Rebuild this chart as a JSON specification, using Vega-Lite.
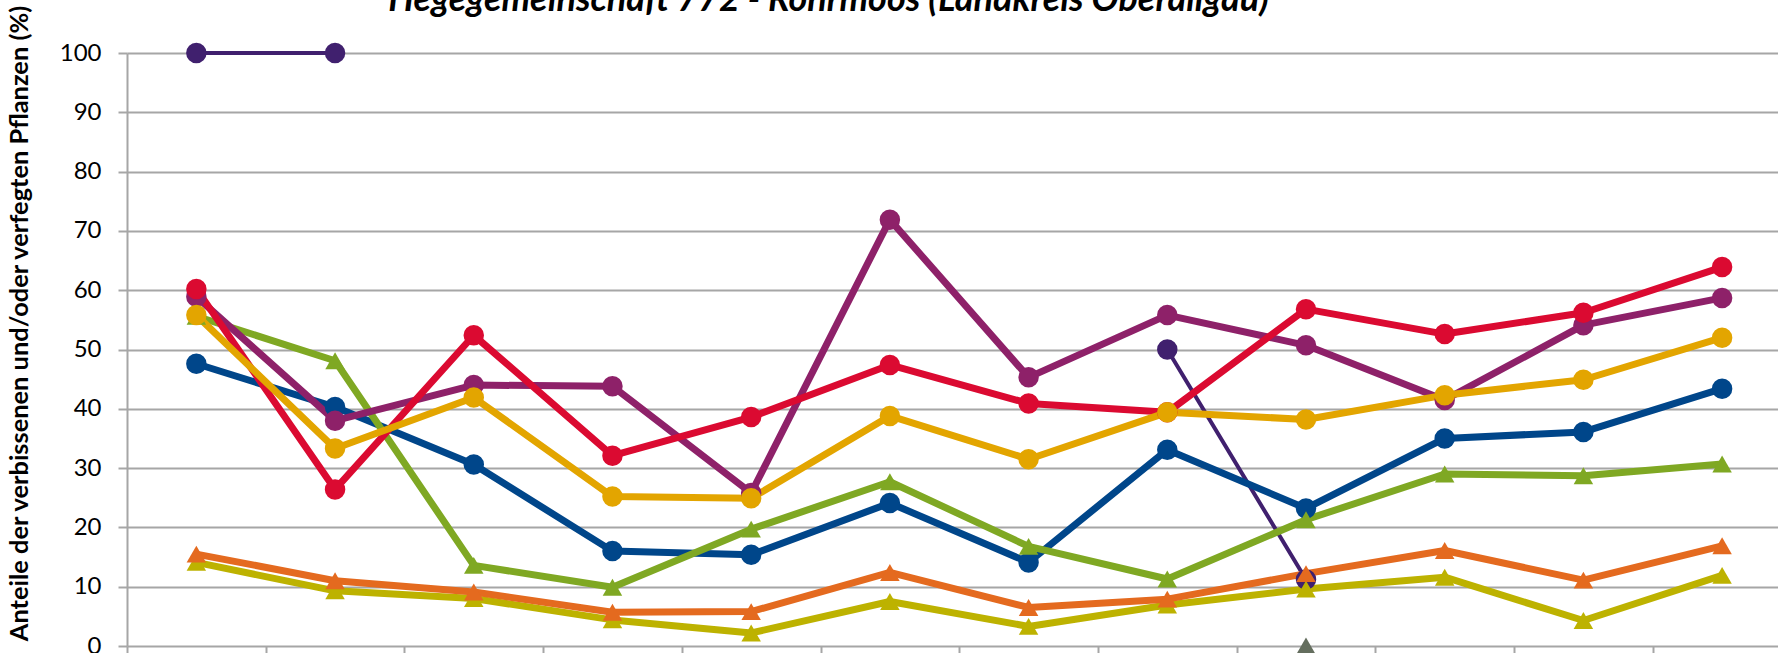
{
  "$schema": "https://vega.github.io/schema/vega-lite/v6.json",
  "width": 1651,
  "height": 593,
  "autosize": {"type": "none"},
  "padding": {"left": 127, "top": 53, "right": 0, "bottom": 7},
  "background": "white",
  "config": {"view": {"stroke": null}},
  "title": {
    "text": "Hegegemeinschaft 772 - Rohrmoos (Landkreis Oberallgäu)",
    "font": "Lato", "fontSize": 36, "fontStyle": "italic", "fontWeight": "bold",
    "color": "#000000", "anchor": "middle", "dx": -124, "offset": 0, "dy": 15
  },
  "data": {"values": [
    {"s": "Reihe 1", "x": 1, "y": 100}, {"s": "Reihe 1", "x": 2, "y": 100}, {"s": "Reihe 1", "x": 3, "y": null}, {"s": "Reihe 1", "x": 8, "y": 50}, {"s": "Reihe 1", "x": 9, "y": 11.2},
    {"s": "Reihe 2", "x": 1, "y": 47.6}, {"s": "Reihe 2", "x": 2, "y": 40.3}, {"s": "Reihe 2", "x": 3, "y": 30.6}, {"s": "Reihe 2", "x": 4, "y": 16.0}, {"s": "Reihe 2", "x": 5, "y": 15.4}, {"s": "Reihe 2", "x": 6, "y": 24.1}, {"s": "Reihe 2", "x": 7, "y": 14.1}, {"s": "Reihe 2", "x": 8, "y": 33.1}, {"s": "Reihe 2", "x": 9, "y": 23.2}, {"s": "Reihe 2", "x": 10, "y": 35.0}, {"s": "Reihe 2", "x": 11, "y": 36.1}, {"s": "Reihe 2", "x": 12, "y": 43.4},
    {"s": "Reihe 3", "x": 1, "y": 55.6}, {"s": "Reihe 3", "x": 2, "y": 48.1}, {"s": "Reihe 3", "x": 3, "y": 13.6}, {"s": "Reihe 3", "x": 4, "y": 9.9}, {"s": "Reihe 3", "x": 5, "y": 19.7}, {"s": "Reihe 3", "x": 6, "y": 27.7}, {"s": "Reihe 3", "x": 7, "y": 16.8}, {"s": "Reihe 3", "x": 8, "y": 11.3}, {"s": "Reihe 3", "x": 9, "y": 21.3}, {"s": "Reihe 3", "x": 10, "y": 29.0}, {"s": "Reihe 3", "x": 11, "y": 28.7}, {"s": "Reihe 3", "x": 12, "y": 30.7},
    {"s": "Reihe 4", "x": 1, "y": 58.9}, {"s": "Reihe 4", "x": 2, "y": 38.0}, {"s": "Reihe 4", "x": 3, "y": 44.0}, {"s": "Reihe 4", "x": 4, "y": 43.8}, {"s": "Reihe 4", "x": 5, "y": 25.8}, {"s": "Reihe 4", "x": 6, "y": 71.9}, {"s": "Reihe 4", "x": 7, "y": 45.3}, {"s": "Reihe 4", "x": 8, "y": 55.8}, {"s": "Reihe 4", "x": 9, "y": 50.7}, {"s": "Reihe 4", "x": 10, "y": 41.5}, {"s": "Reihe 4", "x": 11, "y": 54.1}, {"s": "Reihe 4", "x": 12, "y": 58.7},
    {"s": "Reihe 5", "x": 1, "y": 60.2}, {"s": "Reihe 5", "x": 2, "y": 26.4}, {"s": "Reihe 5", "x": 3, "y": 52.4}, {"s": "Reihe 5", "x": 4, "y": 32.1}, {"s": "Reihe 5", "x": 5, "y": 38.6}, {"s": "Reihe 5", "x": 6, "y": 47.4}, {"s": "Reihe 5", "x": 7, "y": 40.9}, {"s": "Reihe 5", "x": 8, "y": 39.4}, {"s": "Reihe 5", "x": 9, "y": 56.8}, {"s": "Reihe 5", "x": 10, "y": 52.6}, {"s": "Reihe 5", "x": 11, "y": 56.2}, {"s": "Reihe 5", "x": 12, "y": 63.9},
    {"s": "Reihe 6", "x": 1, "y": 55.8}, {"s": "Reihe 6", "x": 2, "y": 33.3}, {"s": "Reihe 6", "x": 3, "y": 41.9}, {"s": "Reihe 6", "x": 4, "y": 25.2}, {"s": "Reihe 6", "x": 5, "y": 24.9}, {"s": "Reihe 6", "x": 6, "y": 38.8}, {"s": "Reihe 6", "x": 7, "y": 31.5}, {"s": "Reihe 6", "x": 8, "y": 39.4}, {"s": "Reihe 6", "x": 9, "y": 38.2}, {"s": "Reihe 6", "x": 10, "y": 42.3}, {"s": "Reihe 6", "x": 11, "y": 44.9}, {"s": "Reihe 6", "x": 12, "y": 52.0},
    {"s": "Reihe 7", "x": 1, "y": 14.1}, {"s": "Reihe 7", "x": 2, "y": 9.3}, {"s": "Reihe 7", "x": 3, "y": 8.0}, {"s": "Reihe 7", "x": 4, "y": 4.4}, {"s": "Reihe 7", "x": 5, "y": 2.2}, {"s": "Reihe 7", "x": 6, "y": 7.5}, {"s": "Reihe 7", "x": 7, "y": 3.3}, {"s": "Reihe 7", "x": 8, "y": 6.9}, {"s": "Reihe 7", "x": 9, "y": 9.6}, {"s": "Reihe 7", "x": 10, "y": 11.6}, {"s": "Reihe 7", "x": 11, "y": 4.3}, {"s": "Reihe 7", "x": 12, "y": 11.9},
    {"s": "Reihe 8", "x": 1, "y": 15.5}, {"s": "Reihe 8", "x": 2, "y": 11.0}, {"s": "Reihe 8", "x": 3, "y": 9.1}, {"s": "Reihe 8", "x": 4, "y": 5.7}, {"s": "Reihe 8", "x": 5, "y": 5.8}, {"s": "Reihe 8", "x": 6, "y": 12.4}, {"s": "Reihe 8", "x": 7, "y": 6.5}, {"s": "Reihe 8", "x": 8, "y": 7.9}, {"s": "Reihe 8", "x": 9, "y": 12.2}, {"s": "Reihe 8", "x": 10, "y": 16.1}, {"s": "Reihe 8", "x": 11, "y": 11.1}, {"s": "Reihe 8", "x": 12, "y": 16.9},
    {"s": "Reihe 9", "x": 9, "y": 0}
  ]},
  "encoding": {
    "x": {
      "field": "x", "type": "quantitative",
      "scale": {"domain": [0.5, 12.403], "nice": false, "zero": false},
      "axis": {
        "values": [0.5, 1.5, 2.5, 3.5, 4.5, 5.5, 6.5, 7.5, 8.5, 9.5, 10.5, 11.5],
        "grid": false, "domain": false, "labels": false, "title": null,
        "ticks": true, "tickSize": 12, "tickWidth": 2, "tickColor": "#A6A6A6"
      }
    },
    "y": {
      "field": "y", "type": "quantitative",
      "scale": {"domain": [0, 100], "nice": false},
      "axis": {
        "values": [0, 10, 20, 30, 40, 50, 60, 70, 80, 90, 100],
        "grid": true, "gridColor": "#A6A6A6", "gridWidth": 2,
        "domainColor": "#A6A6A6", "domainWidth": 2,
        "tickColor": "#A6A6A6", "tickSize": 9, "tickWidth": 2,
        "labelFont": "Lato", "labelFontSize": 24, "labelColor": "#000000", "labelPadding": 17,
        "title": "Anteile der verbissenen und/oder verfegten Pflanzen (%)",
        "titleFont": "Lato", "titleFontSize": 25.4, "titleFontWeight": "bold", "titleColor": "#000000",
        "titleAngle": -90, "titleX": -108, "titleY": 270, "titleAlign": "center", "titleBaseline": "middle"
      }
    },
    "color": {
      "field": "s", "type": "nominal", "legend": null,
      "scale": {
        "domain": ["Reihe 1", "Reihe 2", "Reihe 3", "Reihe 4", "Reihe 5", "Reihe 6", "Reihe 7", "Reihe 8", "Reihe 9"],
        "range": ["#40206E", "#00468A", "#7FA823", "#8E2169", "#DB0A31", "#E3A500", "#BDB200", "#E46A1F", "#646E5E"]
      }
    }
  },
  "layer": [
    {
      "mark": {"type": "line", "invalid": "break-paths-show-domains", "strokeJoin": "round"},
      "encoding": {
        "strokeWidth": {"condition": {"test": "datum.s === 'Reihe 1'", "value": 4}, "value": 7}
      }
    },
    {
      "mark": {"type": "point", "filled": true, "opacity": 1, "clip": false},
      "encoding": {
        "size": {"condition": {"test": "datum.s === 'Reihe 3' || datum.s === 'Reihe 7' || datum.s === 'Reihe 8' || datum.s === 'Reihe 9'", "value": 380}, "value": 420},
        "shape": {
          "field": "s", "type": "nominal", "legend": null,
          "scale": {
            "domain": ["Reihe 1", "Reihe 2", "Reihe 3", "Reihe 4", "Reihe 5", "Reihe 6", "Reihe 7", "Reihe 8", "Reihe 9"],
            "range": ["circle", "circle", "triangle-up", "circle", "circle", "circle", "triangle-up", "triangle-up", "triangle-up"]
          }
        }
      }
    }
  ]
}
